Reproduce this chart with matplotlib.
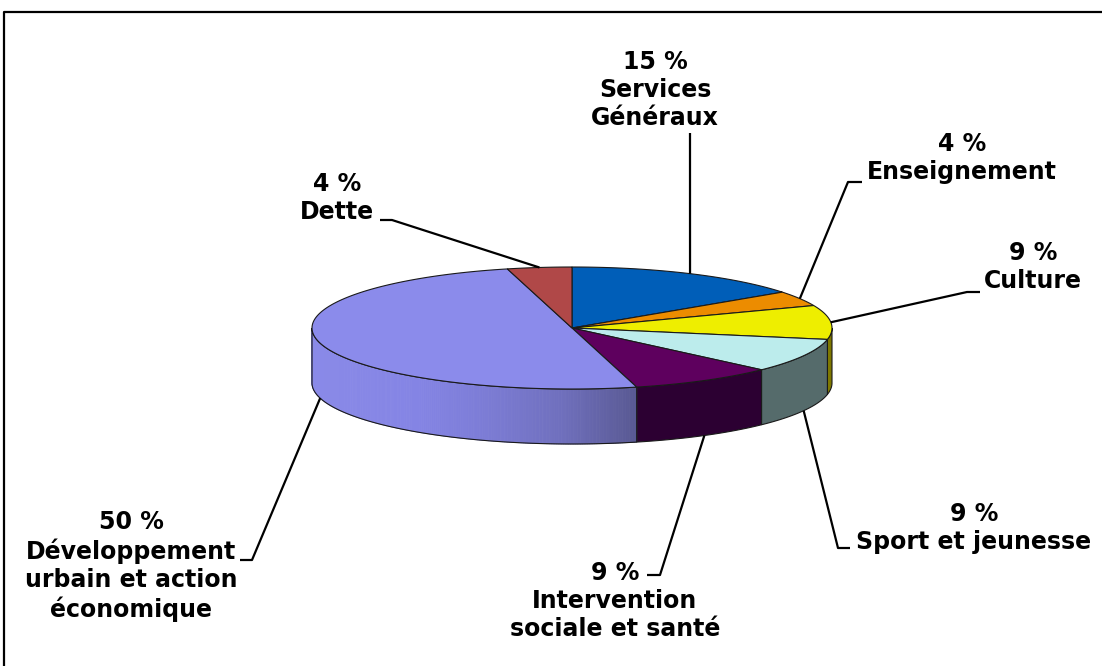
import matplotlib
matplotlib.use("Agg")
import matplotlib.pyplot as plt
from matplotlib.patches import Polygon
import numpy as np

# data
labels = ["Services\nGénéraux", "Enseignement", "Culture", "Sport et jeunesse",
          "Intervention\nsociale et santé", "Développement\nurbain et action\néconomique", "Dette"]
values = [15, 4, 9, 9, 9, 50, 4]
top_colors = ["#005EB8", "#EC8C00", "#EEEE00", "#BCECEC", "#5E005E", "#8B8BEB", "#B04848"]
side_colors = ["#003A73", "#8A5200", "#7E7800", "#556B6B", "#2C0032", "#8A8AE6", "#6A2A2A"]

# label layout (pixels): text centre, elbow, end of short horizontal tick
text_pos = [(655, 90), (962, 158), (1033, 267), (974, 528), (615, 601), (131, 566), (337, 198)]
elbows = [(690, 133), (848, 182), (967, 292), (838, 548), (660, 575), (252, 560), (392, 220)]
tick_ends = [(690, 133), (862, 182), (980, 292), (850, 548), (647, 575), (240, 560), (380, 220)]

W, H = 1102, 666
fig = plt.figure(figsize=(W / 100, H / 100), dpi=100)
ax = fig.add_axes([0, 0, 1, 1])
ax.set_xlim(0, W)
ax.set_ylim(H, 0)
ax.axis("off")

cx, cy, a, b, depth = 572, 328, 260, 61, 55


def rim(t, dy=0):
    t = np.radians(t)
    return cx + a * np.cos(t), cy - b * np.sin(t) + dy


# slice angles, clockwise from 12 o'clock
fracs = np.array(values) / sum(values)
starts = 90 - 360 * np.concatenate([[0], np.cumsum(fracs)[:-1]])
ends = starts - 360 * fracs

# gradient for the big slice side
grad_x = [312, 420, 480, 560, 640]
grad_c = np.array([[138, 138, 232], [132, 132, 228], [125, 125, 215],
                   [112, 112, 190], [88, 88, 145]]) / 255

# sides (front half only)
for i in range(len(values)):
    t1 = max(ends[i], -180)
    t2 = min(starts[i], 0)
    if t1 >= t2:
        continue
    ts = np.linspace(t1, t2, 200)
    xs, ys = rim(ts)
    if i == 5:
        for k in range(len(ts) - 1):
            xm = (xs[k] + xs[k + 1]) / 2
            col = [np.interp(xm, grad_x, grad_c[:, j]) for j in range(3)]
            quad = [(xs[k], ys[k]), (xs[k + 1], ys[k + 1]),
                    (xs[k + 1], ys[k + 1] + depth), (xs[k], ys[k] + depth)]
            ax.add_patch(Polygon(quad, closed=True, facecolor=col, edgecolor=col, lw=0.6))
        fc = "none"
    else:
        fc = side_colors[i]
    poly = list(zip(xs, ys)) + list(zip(xs[::-1], ys[::-1] + depth))
    ax.add_patch(Polygon(poly, closed=True, facecolor=fc, edgecolor="#1a1a1a", lw=0.8))

# top faces
for i in range(len(values)):
    ts = np.linspace(starts[i], ends[i], 200)
    xs, ys = rim(ts)
    poly = [(cx, cy)] + list(zip(xs, ys))
    ax.add_patch(Polygon(poly, closed=True, facecolor=top_colors[i], edgecolor="#1a1a1a", lw=0.8))

# leader lines and labels
for i in range(len(values)):
    mid = (starts[i] + ends[i]) / 2
    x0, y0 = rim(mid, depth if np.sin(np.radians(mid)) < 0 else 0)
    ex, ey = elbows[i]
    tx, ty = tick_ends[i]
    ax.plot([x0, ex, tx], [y0, ey, ty], color="black", lw=1.6, solid_capstyle="butt")
    txt = f"{values[i]} %\n{labels[i]}"
    ax.text(text_pos[i][0], text_pos[i][1], txt, ha="center", va="center",
            fontsize=17, fontweight="bold", family="DejaVu Sans", linespacing=1.22,
            multialignment="center", color="black")

# chart border (clipped at right and bottom)
ax.plot([4, 4, W + 5], [H + 5, 12, 12], color="black", lw=1.6)

fig.savefig("out.png", dpi=100)
